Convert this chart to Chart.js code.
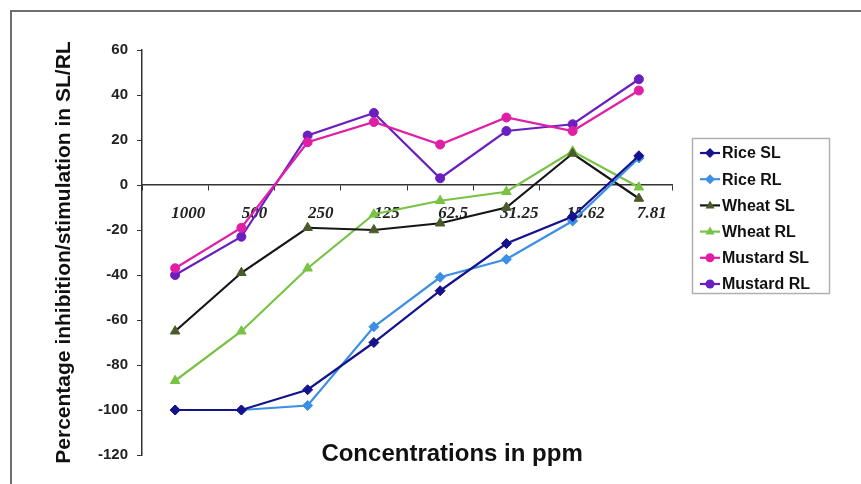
<!DOCTYPE html>
<html><head><meta charset="utf-8">
<script src="https://cdn.jsdelivr.net/npm/chart.js@4/dist/chart.umd.min.js"></script>
<style>html,body{margin:0;padding:0;background:#fff;} canvas{display:block;}</style>
</head><body>
<canvas id="c" width="861" height="484"></canvas>
<script>
const categories = ['1000', '500', '250', '125', '62.5', '31.25', '15.62', '7.81'];
const riceSL    = [-100, -100, -91, -70, -47, -26, -14, 13];
const riceRL    = [-100, -100, -98, -63, -41, -33, -16, 12];
const wheatSL   = [-65, -39, -19, -20, -17, -10, 14, -6];
const wheatRL   = [-87, -65, -37, -13, -7, -3, 15, -1];
const mustardSL = [-37, -19, 19, 28, 18, 30, 24, 42];
const mustardRL = [-40, -23, 22, 32, 3, 24, 27, 47];
const seriesNames = ['Rice SL', 'Rice RL', 'Wheat SL', 'Wheat RL', 'Mustard SL', 'Mustard RL'];
const yMin = -120, yMax = 60, yStep = 20;
const xTitle = 'Concentrations in ppm';
const yTitle = 'Percentage inhibition/stimulation in SL/RL';

const styles = [
  {line:'#14128c', fill:'#14128c', pt:'rectRot', r:5},
  {line:'#3b8fe4', fill:'#3b8fe4', pt:'rectRot', r:5},
  {line:'#161616', fill:'#4b5a2a', pt:'triangle', r:5.5},
  {line:'#78c244', fill:'#78c244', pt:'triangle', r:5.5},
  {line:'#e01fa6', fill:'#e01fa6', pt:'circle', r:4.5},
  {line:'#6a1fc0', fill:'#6a1fc0', pt:'circle', r:4.5}
];
const values = [riceSL, riceRL, wheatSL, wheatRL, mustardSL, mustardRL];

const datasets = values.map((v, i) => ({
  label: seriesNames[i],
  data: v,
  borderColor: styles[i].line,
  backgroundColor: styles[i].fill,
  pointBackgroundColor: styles[i].fill,
  pointBorderColor: styles[i].fill,
  pointStyle: styles[i].pt,
  pointRadius: styles[i].r,
  pointBorderWidth: 1,
  borderWidth: 2.2,
  tension: 0,
  fill: false
}));

function drawMarker(ctx, style, x, y, r, color) {
  ctx.fillStyle = color;
  ctx.beginPath();
  if (style === 'circle') {
    ctx.arc(x, y, r, 0, Math.PI * 2);
  } else if (style === 'rectRot') {
    ctx.moveTo(x, y - r); ctx.lineTo(x + r, y); ctx.lineTo(x, y + r); ctx.lineTo(x - r, y);
  } else {
    ctx.moveTo(x, y - r); ctx.lineTo(x + r * 0.9, y + r * 0.6); ctx.lineTo(x - r * 0.9, y + r * 0.6);
  }
  ctx.closePath();
  ctx.fill();
}

const framePlugin = {
  id: 'frame',
  beforeDraw(chart) {
    const ctx = chart.ctx;
    ctx.save();
    ctx.fillStyle = '#fff';
    ctx.fillRect(0, 0, chart.width, chart.height);
    ctx.strokeStyle = '#6e6e6e';
    ctx.lineWidth = 2;
    ctx.strokeRect(11, 11, chart.width + 20, chart.height + 20);
    ctx.restore();
  },
  afterDraw(chart) {
    const ctx = chart.ctx;
    const a = chart.chartArea;
    ctx.save();
    // x axis title
    ctx.font = 'bold 24px "Liberation Sans", Arial, sans-serif';
    ctx.fillStyle = '#111';
    ctx.textAlign = 'center';
    ctx.textBaseline = 'middle';
    ctx.fillText(xTitle, a.left + a.width * 0.585, a.bottom - 1);
    // legend
    const lx = a.right + 20, ly = a.top + 88, lw = 137, lh = 155;
    ctx.fillStyle = '#fff';
    ctx.fillRect(lx, ly, lw, lh);
    ctx.strokeStyle = '#b0b0b0';
    ctx.lineWidth = 1.5;
    ctx.strokeRect(lx + 0.5, ly + 0.5, lw, lh);
    ctx.font = 'bold 16px "Liberation Sans", Arial, sans-serif';
    ctx.textAlign = 'left';
    chart.data.datasets.forEach((ds, i) => {
      const y = ly + 15 + i * 26.2;
      ctx.strokeStyle = ds.borderColor;
      ctx.lineWidth = 2.2;
      ctx.beginPath(); ctx.moveTo(lx + 8, y); ctx.lineTo(lx + 28, y); ctx.stroke();
      drawMarker(ctx, ds.pointStyle, lx + 18, y, ds.pointStyle === 'circle' ? 4.5 : 5, ds.pointBackgroundColor);
      ctx.fillStyle = '#111';
      ctx.fillText(ds.label, lx + 30, y + 1);
    });
    ctx.restore();
  }
};

new Chart(document.getElementById('c'), {
  type: 'line',
  data: { labels: categories, datasets },
  plugins: [framePlugin],
  options: {
    responsive: false,
    animation: false,
    layout: { padding: { left: 0, right: 189, top: 50, bottom: 29 } },
    plugins: { legend: { display: false }, tooltip: { enabled: false } },
    scales: {
      x: {
        type: 'category',
        position: { y: 0 },
        offset: true,
        grid: { display: true, drawOnChartArea: false, drawTicks: true, tickLength: 5, color: '#333', offset: true },
        border: { display: true, color: '#333', width: 1.5 },
        ticks: {
          color: '#222',
          padding: 13,
          labelOffset: 13,
          maxRotation: 0,
          font: { family: '"Liberation Serif", "DejaVu Serif", serif', size: 17, style: 'italic', weight: 'bold' }
        }
      },
      y: {
        min: yMin, max: yMax,
        afterFit(scale) { scale.width = 142; },
        grid: { display: true, drawOnChartArea: false, drawTicks: true, tickLength: 5, color: '#333' },
        border: { display: true, color: '#333', width: 1.5 },
        ticks: {
          stepSize: yStep,
          color: '#222',
          padding: 9,
          font: { family: '"Liberation Sans", Arial, sans-serif', size: 15, weight: 'bold' }
        },
        title: {
          display: true,
          text: yTitle,
          color: '#111',
          padding: { top: 52 },
          font: { family: '"Liberation Sans", Arial, sans-serif', size: 21, weight: 'bold' }
        }
      }
    }
  }
});
</script>
</body></html>
